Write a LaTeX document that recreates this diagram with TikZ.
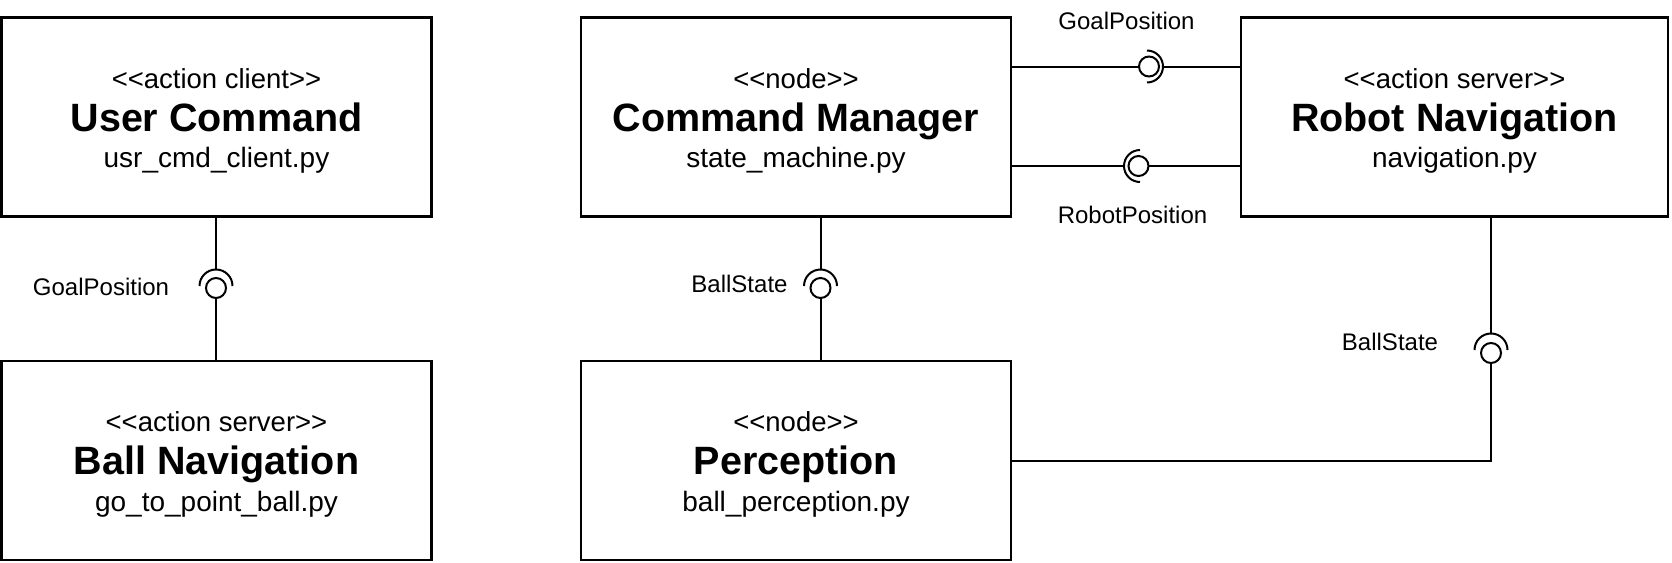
\documentclass[tikz,border=0pt]{standalone}
\usepackage{fontspec}
\setmainfont{Liberation Sans}
\tikzset{
  box/.style={draw, line width=2.2pt, inner sep=0pt, outer sep=0pt, minimum width=430pt, minimum height=199pt},
  stereo/.style={font=\fontsize{27.5}{32}\selectfont, anchor=base, inner sep=0pt},
  ctitle/.style={font=\fontsize{39.5}{47}\selectfont\bfseries, anchor=base, inner sep=0pt},
  cfile/.style={font=\fontsize{28}{33}\selectfont, anchor=base, inner sep=0pt},
  lbl/.style={font=\fontsize{24}{28}\selectfont, inner sep=0pt},
  conn/.style={line width=2pt},
  ball/.style={circle, draw, line width=2pt, minimum size=20pt, inner sep=0pt, outer sep=0pt},
}
\newcommand\umlcomp[5]{%
  \node[box] (#1) at (#2) {};
  \node[stereo] (#1s) at ([yshift=29pt]#1.center) {#3};
  \node[ctitle] (#1t) at ([yshift=-14pt]#1.center) {#4};
  \node[cfile] (#1f) at ([yshift=-50.5pt]#1.center) {#5};
}
\begin{document}
\begin{tikzpicture}[x=1pt, y=-1pt]
\useasboundingbox (0,0) rectangle (1672,562);

\umlcomp{UC}{216.5,117}{<\kern0pt<action client>\kern0pt>}{User Command}{usr\_cmd\_client.py}
\umlcomp{BN}{216.5,460.5}{<\kern0pt<action server>\kern0pt>}{Ball Navigation}{go\_to\_point\_ball.py}
\umlcomp{CM}{796,117}{<\kern0pt<node>\kern0pt>}{Command Manager}{state\_machine.py}
\umlcomp{PE}{796,460.5}{<\kern0pt<node>\kern0pt>}{Perception}{ball\_perception.py}
\begin{scope}[box/.append style={minimum width=427pt}]
\umlcomp{RN}{1454.5,117}{<\kern0pt<action server>\kern0pt>}{Robot Navigation}{navigation.py}
\end{scope}

% UC -- BN : GoalPosition
\node[ball] (b1) at (216,288) {};
\coordinate (a1) at (216,286);
\draw[conn] (b1 |- UC.south) -- ([yshift=16.5pt]a1);
\draw[conn] ([xshift=16.5pt]a1) arc[start angle=0, end angle=180, radius=16.5pt];
\draw[conn] (b1.south) -- (b1 |- BN.north);
\node[lbl] (l1) at (101,287) {GoalPosition};

% CM -- PE : BallState
\node[ball] (b2) at (820.5,288) {};
\coordinate (a2) at (820.5,286);
\draw[conn] (b2 |- CM.south) -- ([yshift=16.5pt]a2);
\draw[conn] ([xshift=16.5pt]a2) arc[start angle=0, end angle=180, radius=16.5pt];
\draw[conn] (b2.south) -- (b2 |- PE.north);
\node[lbl] (l2) at (739.5,284) {BallState};

% RN -- PE : BallState
\node[ball] (b3) at (1491,353) {};
\coordinate (a3) at (1491,350);
\coordinate (k3) at (1491,461);
\draw[conn] (b3 |- RN.south) -- ([yshift=16.5pt]a3);
\draw[conn] ([xshift=16.5pt]a3) arc[start angle=0, end angle=180, radius=16.5pt];
\draw[conn] (b3.south) -- (k3) -- (k3 -| PE.east);
\node[lbl] (l3) at (1390,342) {BallState};

% CM -- RN : GoalPosition
\node[ball] (b4) at (1149,66.5) {};
\coordinate (a4) at (1147,66.5);
\draw[conn] (b4 -| CM.east) -- (b4.west);
\draw[conn] ([yshift=16pt]a4) arc[start angle=90, end angle=-90, radius=16pt];
\draw[conn] ([xshift=16pt]a4) -- (a4 -| RN.west);
\node[lbl] (l4) at (1126.5,21) {GoalPosition};

% CM -- RN : RobotPosition
\node[ball] (b5) at (1138.5,166) {};
\coordinate (a5) at (1140,166);
\draw[conn] (b5 -| CM.east) -- ([xshift=-16pt]a5);
\draw[conn] ([yshift=16pt]a5) arc[start angle=90, end angle=270, radius=16pt];
\draw[conn] (b5.east) -- (b5 -| RN.west);
\node[lbl] (l5) at (1132.5,215) {RobotPosition};
\end{tikzpicture}
\end{document}
